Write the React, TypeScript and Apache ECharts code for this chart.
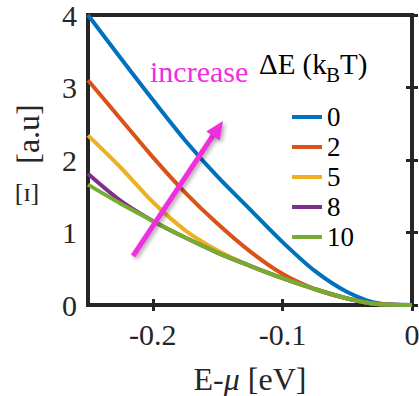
import React, { useEffect, useRef } from "react";
import * as echarts from "echarts";

// Energy grid E-μ (eV)
const energy = [-0.25, -0.225, -0.2, -0.175, -0.15, -0.125, -0.1, -0.075, -0.05, -0.025, 0];
// Γ values (a.u.) for each ΔE (k_B T)
const gamma0 = [4.0, 3.41, 2.83, 2.27, 1.77, 1.32, 0.87, 0.47, 0.18, 0.02, 0];
const gamma2 = [3.1, 2.57, 2.04, 1.55, 1.12, 0.74, 0.43, 0.22, 0.09, 0.01, 0];
const gamma5 = [2.34, 1.9, 1.42, 1.03, 0.75, 0.54, 0.37, 0.22, 0.09, 0.01, 0];
const gamma8 = [1.81, 1.44, 1.16, 0.93, 0.72, 0.54, 0.37, 0.22, 0.09, 0.01, 0];
const gamma10 = [1.66, 1.4, 1.16, 0.93, 0.72, 0.54, 0.37, 0.22, 0.09, 0.01, 0];

const seriesNames = ["0", "2", "5", "8", "10"];
const seriesValues = [gamma0, gamma2, gamma5, gamma8, gamma10];
const colors = ["#0072BD", "#D95319", "#EDB120", "#7E2F8E", "#77AC30"];

const xTicks = [-0.2, -0.1, 0];
const yTicks = [0, 1, 2, 3, 4];

const FONT = "Liberation Serif";
const AX = "#262626";
const MAG = "#F02EDD";

export default function App() {
  const ref = useRef<HTMLDivElement>(null);
  useEffect(() => {
    if (!ref.current) return;
    const chart = echarts.init(ref.current, undefined, { renderer: "svg" });

    const tick = { show: true, inside: true, length: 6, lineStyle: { color: AX, width: 3 } };
    const option: any = {
      animation: false,
      textStyle: { fontFamily: FONT },
      grid: {
        left: 88, right: 7, top: 15, bottom: 91,
        outerBoundsMode: "none",
        containLabel: false,
        show: true, borderColor: AX, borderWidth: 4, backgroundColor: "transparent",
      },
      xAxis: [
        {
          type: "value", min: -0.25, max: 0, position: "bottom",
          axisLine: { show: false },
          axisTick: { ...tick, customValues: xTicks },
          splitLine: { show: false },
          axisLabel: {
            customValues: xTicks, margin: 14, fontSize: 30, color: AX, fontFamily: FONT,
            formatter: (v: number) => (v === 0 ? "0" : "-" + Math.abs(v).toFixed(1)),
          },
          name: "{n|E-}{m|μ}{n| [eV]}",
          nameLocation: "middle",
          nameGap: 58,
          nameTextStyle: {
            fontFamily: FONT,
            rich: {
              n: { fontSize: 32, fontFamily: FONT, color: AX },
              m: { fontSize: 32, fontFamily: FONT, color: AX, fontStyle: "italic" },
            },
          },
        },
        {
          type: "value", min: -0.25, max: 0, position: "top",
          axisLine: { show: false },
          axisTick: { ...tick, customValues: xTicks },
          splitLine: { show: false },
          axisLabel: { show: false },
        },
      ],
      yAxis: [
        {
          type: "value", min: 0, max: 4, interval: 1, position: "left",
          axisLine: { show: false },
          axisTick: { ...tick, customValues: yTicks },
          splitLine: { show: false },
          axisLabel: { margin: 11, fontSize: 30, color: AX, fontFamily: FONT },
        },
        {
          type: "value", min: 0, max: 4, interval: 1, position: "right",
          axisLine: { show: false },
          axisTick: { ...tick, customValues: yTicks },
          splitLine: { show: false },
          axisLabel: { show: false },
        },
      ],
      legend: {
        orient: "vertical",
        left: 287,
        top: 97,
        icon: "rect",
        itemWidth: 30,
        itemHeight: 4,
        itemGap: 0,
        data: seriesNames,
        textStyle: { fontSize: 27, lineHeight: 30, fontFamily: FONT, color: "#000" },
      },
      series: seriesNames.map((name, i) => ({
        type: "line",
        name,
        data: energy.map((e, j) => [e, seriesValues[i][j]]),
        smooth: 0.3,
        showSymbol: false,
        symbol: "none",
        clip: false,
        lineStyle: { color: colors[i], width: 4 },
        itemStyle: { color: colors[i] },
        z: 3 + i,
      })),
      graphic: [
        {
          type: "text", x: 28, y: 134, rotation: Math.PI / 2,
          style: { text: "[a.u]", fontSize: 32, fontFamily: FONT, fill: AX, textAlign: "center", textVerticalAlign: "middle" },
        },
        {
          type: "text", x: 27, y: 192,
          style: { text: "[ɪ]", fontSize: 26, fontFamily: FONT, fill: AX, textAlign: "center", textVerticalAlign: "middle" },
        },
        {
          type: "text", x: 150, y: 71,
          style: { text: "increase", fontSize: 30, fontFamily: FONT, fill: MAG, textAlign: "left", textVerticalAlign: "middle" },
        },
        {
          type: "text", x: 259, y: 64,
          style: { text: "ΔE (k", fontSize: 29, fontFamily: FONT, fill: "#000", textAlign: "left", textVerticalAlign: "middle" },
        },
        {
          type: "text", x: 326, y: 75,
          style: { text: "B", fontSize: 21, fontFamily: FONT, fill: "#000", textAlign: "left", textVerticalAlign: "middle" },
        },
        {
          type: "text", x: 340, y: 64,
          style: { text: "T)", fontSize: 29, fontFamily: FONT, fill: "#000", textAlign: "left", textVerticalAlign: "middle" },
        },
        {
          type: "line", z: 20,
          shape: { x1: 133, y1: 256, x2: 214, y2: 134 },
          style: { stroke: MAG, lineWidth: 5, shadowBlur: 4, shadowColor: "rgba(0,0,0,0.35)", shadowOffsetX: 2, shadowOffsetY: 2 },
        },
        {
          type: "polygon", z: 20,
          shape: { points: [[223, 121], [219.7, 140.4], [206.3, 131.6]] },
          style: { fill: MAG, shadowBlur: 4, shadowColor: "rgba(0,0,0,0.35)", shadowOffsetX: 2, shadowOffsetY: 2 },
        },
      ],
    };
    chart.setOption(option);
    return () => chart.dispose();
  }, []);
  return (
    <div
      ref={ref}
      style={{ position: "fixed", left: 0, top: 0, width: 419, height: 396, background: "#fff" }}
    />
  );
}
